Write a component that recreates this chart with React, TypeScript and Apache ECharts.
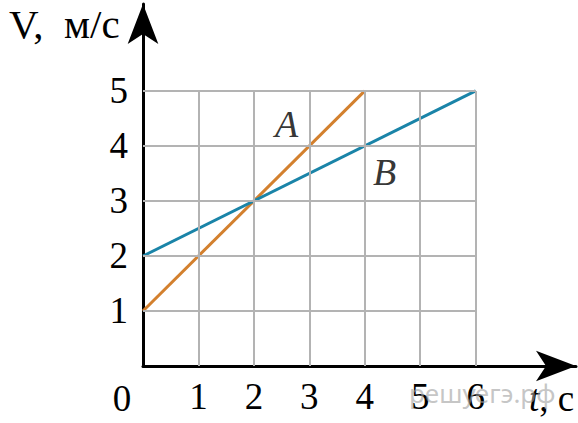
import React, { useEffect, useRef } from "react";
import * as echarts from "echarts";

const tValues = [0, 4];
const speedA = [1, 5];
const tValuesB = [0, 6];
const speedB = [2, 5];
const xTickLabels = [1, 2, 3, 4, 5, 6];
const yTickLabels = [1, 2, 3, 4, 5];
const gridX = [1, 2, 3, 4, 5, 6];
const gridY = [1, 2, 3, 4, 5];
const lineLabels = [
  { name: "A", t: 2.59, v: 4.4 },
  { name: "B", t: 4.36, v: 3.53 },
];

const FONT = "'Liberation Serif', 'Times New Roman', serif";

export default function App() {
  const ref = useRef<HTMLDivElement>(null);
  useEffect(() => {
    if (!ref.current) return;
    const chart = echarts.init(ref.current, null, { renderer: "svg" });
    const gridLines: any[] = [];
    gridX.forEach((x) => gridLines.push([{ coord: [x, 0] }, { coord: [x, 5] }]));
    gridY.forEach((y) => gridLines.push([{ coord: [0, y] }, { coord: [6, y] }]));
    chart.setOption({
      animation: false,
      grid: { left: 143, right: 2, top: 4, bottom: 57, containLabel: false },
      xAxis: {
        type: "value",
        min: 0,
        max: 7.81,
        interval: 1,
        splitLine: { show: false },
        axisTick: { show: false },
        axisLine: {
          show: true,
          symbol: ["none", "arrow"],
          symbolSize: [23, 40],
          lineStyle: { color: "#000", width: 3 },
        },
        axisLabel: {
          margin: 12,
          showMaxLabel: false,
          color: "#000",
          fontFamily: FONT,
          fontSize: 37,
          formatter: (v: number) => (xTickLabels.includes(v) ? String(v) : ""),
        },
      },
      yAxis: {
        type: "value",
        min: 0,
        max: 6.58,
        interval: 1,
        splitLine: { show: false },
        axisTick: { show: false },
        axisLine: {
          show: true,
          symbol: ["none", "arrow"],
          symbolSize: [23, 40],
          lineStyle: { color: "#000", width: 3 },
        },
        axisLabel: {
          margin: 15,
          showMaxLabel: false,
          color: "#000",
          fontFamily: FONT,
          fontSize: 37,
          formatter: (v: number) => (yTickLabels.includes(v) ? String(v) : ""),
        },
      },
      series: [
        {
          type: "line",
          data: [],
          silent: true,
          markLine: {
            silent: true,
            symbol: ["none", "none"],
            label: { show: false },
            lineStyle: { color: "#b3b3b3", width: 2, type: "solid" },
            data: gridLines,
          },
          z: 1,
        },
        {
          type: "line",
          data: tValues.map((t, i) => [t, speedA[i]]),
          symbol: "none",
          lineStyle: { color: "#d3802e", width: 3 },
          z: 3,
        },
        {
          type: "line",
          data: tValuesB.map((t, i) => [t, speedB[i]]),
          symbol: "none",
          lineStyle: { color: "#1a84a8", width: 3 },
          z: 3,
        },
        {
          type: "scatter",
          symbolSize: 0,
          data: lineLabels.map((l) => ({ name: l.name, value: [l.t, l.v] })),
          label: {
            show: true,
            position: "inside",
            formatter: (p: any) => p.name,
            color: "#000",
            fontFamily: FONT,
            fontStyle: "italic",
            fontSize: 38,
          },
          z: 4,
        },
      ],
      graphic: [
        {
          type: "text",
          left: 9,
          top: 3,
          style: { text: "V,  м/с", font: `41px ${FONT}`, fill: "#000" },
        },
        {
          type: "text",
          x: 122,
          y: 398,
          style: {
            text: "0",
            font: `37px ${FONT}`,
            fill: "#000",
            align: "center",
            verticalAlign: "middle",
          },
        },
        {
          type: "text",
          x: 529,
          y: 398,
          style: {
            text: "{i|t}{n|,}{n| c}",
            verticalAlign: "middle",
            rich: {
              i: { font: `italic 37px ${FONT}`, fill: "#000" },
              n: { font: `37px ${FONT}`, fill: "#000" },
            },
          },
        },
        {
          type: "text",
          x: 409,
          y: 393,
          z: 100,
          style: {
            text: "решуегэ.рф",
            font: `26px 'Noto Sans', sans-serif`,
            fill: "rgba(160,160,160,0.6)",
            verticalAlign: "middle",
          },
        },
      ],
    });
    return () => chart.dispose();
  }, []);
  return <div ref={ref} style={{ width: 578, height: 423, position: "absolute", left: 0, top: 0 }} />;
}
